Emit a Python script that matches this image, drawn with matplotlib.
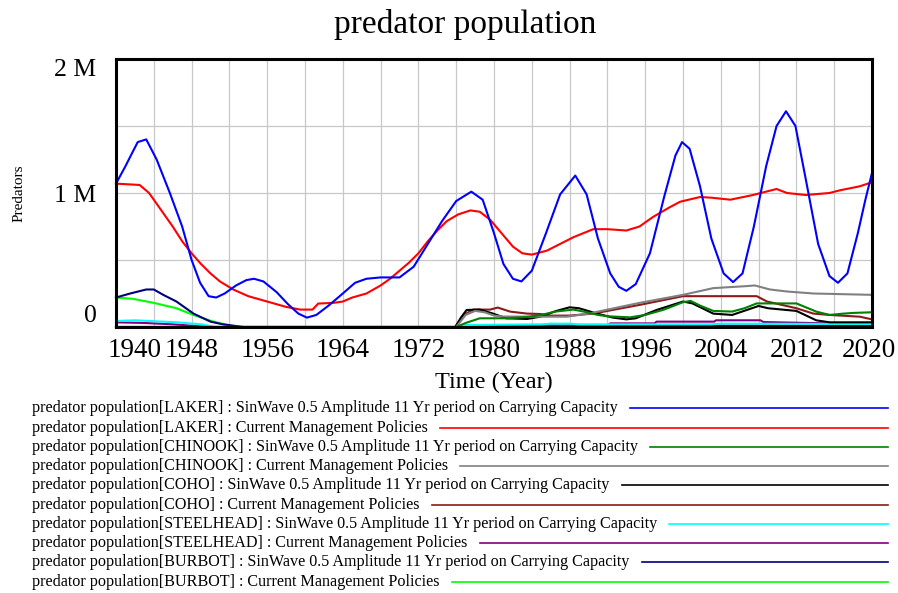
import matplotlib
matplotlib.use("Agg")
import matplotlib.pyplot as plt
from matplotlib.lines import Line2D
import matplotlib.transforms as mtransforms

plt.rcParams['font.family'] = ['Liberation Serif', 'DejaVu Serif']

# predator population, millions of predators
laker_sin_years = [1940, 1941, 1941.5, 1942.3, 1943.2, 1944.3, 1945.7, 1947, 1948, 1948.9, 1949.8,
                   1950.6, 1951.5, 1952.7, 1953.8, 1954.6, 1955.6, 1957, 1958.2, 1959.3, 1960.2,
                   1961.2, 1962.5, 1964, 1965.3, 1966.5, 1968, 1970, 1971.5, 1973, 1974.5, 1976,
                   1977.6, 1978.8, 1980, 1981, 1982, 1982.9, 1984, 1985.5, 1987, 1988.6, 1989.8,
                   1991, 1992.3, 1993.2, 1994, 1995, 1996.5, 1998, 1999.2, 1999.9, 2000.7, 2001.8,
                   2003, 2004.3, 2005.3, 2006.3, 2007.5, 2008.8, 2009.9, 2010.9, 2011.9, 2013,
                   2014.3, 2015.5, 2016.4, 2017.4, 2018.5, 2019.3, 2020]
laker_sin_vals = [1.07, 1.20, 1.27, 1.38, 1.40, 1.25, 1.00, 0.75, 0.50, 0.33, 0.23,
                  0.22, 0.25, 0.31, 0.35, 0.36, 0.34, 0.26, 0.17, 0.10, 0.07,
                  0.09, 0.16, 0.25, 0.33, 0.36, 0.37, 0.37, 0.45, 0.62, 0.79, 0.94,
                  1.01, 0.95, 0.70, 0.47, 0.36, 0.34, 0.42, 0.70, 0.99, 1.13, 0.99,
                  0.66, 0.40, 0.30, 0.27, 0.32, 0.55, 0.97, 1.28, 1.38, 1.33, 1.05,
                  0.66, 0.40, 0.335, 0.40, 0.75, 1.20, 1.50, 1.61, 1.50, 1.10,
                  0.62, 0.38, 0.33, 0.40, 0.70, 0.95, 1.15]

laker_cur_years = [1940, 1942.5, 1943.5, 1944.5, 1946, 1947, 1948, 1949, 1950, 1951, 1952.4, 1954,
                   1956, 1958, 1959.5, 1960.8, 1961.4, 1963, 1964, 1965, 1966.5, 1968, 1969, 1970,
                   1971, 1972, 1973, 1974, 1975, 1976.2, 1977.5, 1978.5, 1979.6, 1980.8, 1982,
                   1983, 1984, 1985.6, 1987, 1988.4, 1990.5, 1992, 1994, 1995.4, 1996.8, 1998.5,
                   1999.7, 2001.8, 2003, 2005, 2007.4, 2009.9, 2011, 2013, 2015.5, 2016.6, 2018.7,
                   2020]
laker_cur_vals = [1.07, 1.06, 1.00, 0.90, 0.75, 0.64, 0.55, 0.47, 0.40, 0.34, 0.28, 0.23,
                  0.19, 0.15, 0.13, 0.13, 0.175, 0.18, 0.19, 0.22, 0.25, 0.31, 0.36, 0.42,
                  0.48, 0.55, 0.64, 0.72, 0.79, 0.84, 0.87, 0.86, 0.80, 0.70, 0.60,
                  0.55, 0.54, 0.57, 0.62, 0.67, 0.73, 0.73, 0.72, 0.75, 0.82, 0.89,
                  0.935, 0.97, 0.965, 0.95, 0.985, 1.03, 1.00, 0.985, 1.00, 1.02, 1.05,
                  1.08]

chinook_sin_years = [1940, 1976, 1977, 1978.5, 1981.5, 1983.5, 1985, 1986.5, 1988.4, 1989.5, 1991,
                     1992, 1994.4, 1996, 1998, 2000, 2000.8, 2001.8, 2003.2, 2005.2, 2006.5,
                     2007.8, 2012, 2014.1, 2015.5, 2017, 2018, 2020]
chinook_sin_vals = [0, 0, 0.03, 0.065, 0.065, 0.075, 0.09, 0.115, 0.13, 0.115, 0.09,
                    0.08, 0.072, 0.09, 0.13, 0.185, 0.195, 0.16, 0.12, 0.115, 0.14,
                    0.176, 0.176, 0.115, 0.09, 0.10, 0.105, 0.11]

chinook_cur_years = [1940, 1976, 1977, 1978, 1979, 1980, 1981, 1985, 1987.7, 1990, 1995.4, 2000,
                     2003.2, 2006.7, 2007.6, 2009.2, 2011, 2013.8, 2020]
chinook_cur_vals = [0, 0, 0.09, 0.12, 0.11, 0.085, 0.078, 0.077, 0.077, 0.10, 0.18, 0.24,
                    0.29, 0.305, 0.31, 0.28, 0.265, 0.25, 0.24]

coho_sin_years = [1940, 1975.9, 1976.5, 1977.1, 1978.5, 1979.9, 1981.3, 1983.5, 1984.9, 1986.6,
                  1988, 1989, 1990.9, 1992.6, 1994, 1995, 1997.2, 2000, 2001, 2003.2, 2005.2,
                  2008, 2009, 2012, 2014.1, 2015.5, 2020]
coho_sin_vals = [0, 0, 0.07, 0.127, 0.13, 0.10, 0.065, 0.06, 0.077, 0.12,
                 0.147, 0.14, 0.10, 0.07, 0.057, 0.065, 0.127, 0.19, 0.176, 0.10, 0.09,
                 0.157, 0.14, 0.12, 0.05, 0.035, 0.035]

coho_cur_years = [1940, 1975.9, 1976.8, 1977.8, 1979.6, 1980.4, 1981.7, 1983.5, 1984.9, 1986,
                  1988, 1990.5, 1995.4, 2000, 2001.4, 2007.8, 2008.9, 2012, 2013.8, 2015.5,
                  2018.7, 2020]
coho_cur_vals = [0, 0, 0.09, 0.13, 0.13, 0.145, 0.115, 0.10, 0.097, 0.085,
                 0.085, 0.10, 0.165, 0.23, 0.23, 0.23, 0.19, 0.14, 0.10, 0.09,
                 0.077, 0.057]

steelhead_sin_years = [1940, 1942, 1946.4, 1949, 1950.5, 1976.5, 1977, 1985, 1986, 1988, 1989,
                       2003, 2004, 2020]
steelhead_sin_vals = [0.045, 0.05, 0.035, 0.02, 0, 0, 0.015, 0.02, 0.025, 0.025, 0.02,
                      0.02, 0.025, 0.022]

steelhead_cur_years = [1940, 1943, 1946, 1950, 1976, 1977, 1992, 1992.3, 1997, 1997.2, 2003.3,
                       2003.5, 2008.2, 2008.5, 2015.5, 2020]
steelhead_cur_vals = [0.035, 0.03, 0.02, 0, 0, 0.01, 0.01, 0.027, 0.027, 0.04, 0.04,
                      0.05, 0.05, 0.037, 0.027, 0.03]

burbot_sin_years = [1940, 1941.5, 1943.2, 1944, 1945, 1946.4, 1948.2, 1950, 1951.3, 1953.5, 1977,
                    1978, 2020]
burbot_sin_vals = [0.22, 0.25, 0.28, 0.28, 0.24, 0.19, 0.10, 0.04, 0.02, 0, 0,
                   0.01, 0.01]

burbot_cur_years = [1940, 1941.8, 1944, 1946.4, 1948.2, 1950.3, 1951.5, 1953, 2020]
burbot_cur_vals = [0.22, 0.21, 0.18, 0.14, 0.09, 0.04, 0.02, 0, 0]

series = [
    ("predator population[LAKER] : SinWave 0.5 Amplitude 11 Yr period on Carrying Capacity",
     laker_sin_years, laker_sin_vals, '#0000ff'),
    ("predator population[LAKER] : Current Management Policies",
     laker_cur_years, laker_cur_vals, '#ff0000'),
    ("predator population[CHINOOK] : SinWave 0.5 Amplitude 11 Yr period on Carrying Capacity",
     chinook_sin_years, chinook_sin_vals, '#008000'),
    ("predator population[CHINOOK] : Current Management Policies",
     chinook_cur_years, chinook_cur_vals, '#808080'),
    ("predator population[COHO] : SinWave 0.5 Amplitude 11 Yr period on Carrying Capacity",
     coho_sin_years, coho_sin_vals, '#000000'),
    ("predator population[COHO] : Current Management Policies",
     coho_cur_years, coho_cur_vals, '#8b1a1a'),
    ("predator population[STEELHEAD] : SinWave 0.5 Amplitude 11 Yr period on Carrying Capacity",
     steelhead_sin_years, steelhead_sin_vals, '#00ffff'),
    ("predator population[STEELHEAD] : Current Management Policies",
     steelhead_cur_years, steelhead_cur_vals, '#800080'),
    ("predator population[BURBOT] : SinWave 0.5 Amplitude 11 Yr period on Carrying Capacity",
     burbot_sin_years, burbot_sin_vals, '#000080'),
    ("predator population[BURBOT] : Current Management Policies",
     burbot_cur_years, burbot_cur_vals, '#00ff00'),
]

W, H = 898, 593
fig = plt.figure(figsize=(W / 100, H / 100), dpi=100)
ax = fig.add_axes([116 / W, 1 - 327 / H, (872 - 116) / W, (327 - 59) / H])

n = len(series)
for i, (label, yrs, vals, color) in enumerate(series):
    # first series on top, like Vensim
    ax.plot(yrs, vals, color=color, lw=1.5, zorder=10 + n - i, clip_on=False)

ax.set_xlim(1940, 2020)
ax.set_ylim(0, 2)
ax.set_xticks(range(1940, 2021, 8))
ax.set_xticks(range(1940, 2021, 4), minor=True)
ax.set_yticks([0, 1, 2])
ax.set_yticklabels(['0', '1 M', '2 M'])
ax.set_yticks([0.5, 1.5], minor=True)
ax.grid(True, which='both', color='#c8c8c8', lw=0.9)
ax.set_axisbelow(True)
ax.tick_params(which='both', length=0)
ax.tick_params(axis='x', pad=8, labelsize=19.5)
ax.tick_params(axis='y', pad=14, labelsize=18.5)
for sp in ax.spines.values():
    sp.set_linewidth(2.2)
    sp.set_zorder(30)

# Vensim keeps the y labels inside the axis span
ylabs = ax.get_yticklabels()
ylabs[0].set_va('bottom')
ylabs[2].set_va('top')
xlabs = ax.get_xticklabels()
xlabs[0].set_ha('left')
xlabs[0].set_transform(xlabs[0].get_transform() +
                       mtransforms.ScaledTranslation(-8 / 100, 0, fig.dpi_scale_trans))
xlabs[-1].set_transform(xlabs[-1].get_transform() +
                        mtransforms.ScaledTranslation(-3 / 100, 0, fig.dpi_scale_trans))

ax.set_ylabel('Predators', fontsize=11, labelpad=0)
ax.yaxis.set_label_coords(-0.12, 0.5)
fig.text(465 / W, 1 - 33 / H, 'predator population', fontsize=24, ha='center', va='baseline')
fig.text(494 / W, 1 - 388 / H, 'Time (Year)', fontsize=17.5, ha='center', va='baseline')

# legend drawn as rows of text followed by a line sample
fig.canvas.draw()
renderer = fig.canvas.get_renderer()
for i, (label, yrs, vals, color) in enumerate(series):
    yc = 408.3 + i * 19.27
    t = fig.text(31.7 / W, 1 - yc / H, label, fontsize=11.6, ha='left', va='center')
    x_end = t.get_window_extent(renderer).x1
    fig.add_artist(Line2D([(x_end + 12.5) / W, 888 / W], [1 - yc / H, 1 - yc / H],
                          transform=fig.transFigure, color=color, lw=1.2))

fig.savefig('out.png', dpi=100)
